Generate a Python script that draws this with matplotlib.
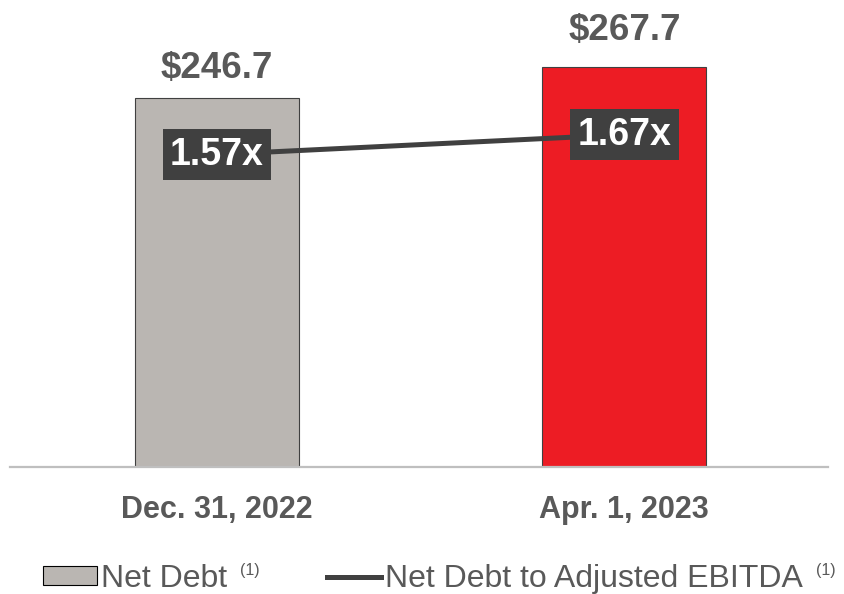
import matplotlib
matplotlib.use("Agg")
import matplotlib.pyplot as plt
from matplotlib.patches import Patch
from matplotlib.lines import Line2D

plt.rcParams['font.family'] = ['Liberation Sans', 'DejaVu Sans']

categories = ["Dec. 31, 2022", "Apr. 1, 2023"]
net_debt = [246.7, 267.7]
net_debt_labels = ["$246.7", "$267.7"]
leverage = [1.57, 1.67]
leverage_labels = ["1.57x", "1.67x"]
bar_colors = ["#BAB6B2", "#ED1C24"]
legend_labels = ["Net Debt", "Net Debt to Adjusted EBITDA"]
legend_note = "(1)"

TXT = "#595959"
DARK = "#404040"
W, H = 844, 594

fig = plt.figure(figsize=(W / 100, H / 100), dpi=100)
ax = fig.add_axes([10/W, 127/H, 818/W, 449/H])
x = list(range(len(categories)))
bars = ax.bar(x, net_debt, width=0.403, color=bar_colors, edgecolor=DARK, linewidth=0.8, zorder=2)
ax.set_xlim(-0.508, 1.5)
ax.set_ylim(0, 300.3)
for s in ["top", "right", "left"]:
    ax.spines[s].set_visible(False)
ax.spines["bottom"].set_color("#BFBFBF")
ax.spines["bottom"].set_linewidth(1.6)
ax.set_yticks([])
ax.set_xticks(x)
ax.set_xticklabels(categories, fontsize=22, fontweight="bold", color=TXT)
ax.tick_params(axis="x", length=0, pad=20)

label_offsets = [14.5, 19.5]
for xi, v, lab, off in zip(x, net_debt, net_debt_labels, label_offsets):
    ax.annotate(lab, (xi, v), xytext=(0, off), textcoords="offset points",
                ha="center", va="baseline", fontsize=26.5, fontweight="bold", color=TXT)

ax2 = ax.twinx()
ax2.set_ylim(0, 2.256)
ax2.axis("off")
ax2.plot(x, leverage, color=DARK, linewidth=3.6, zorder=3)
for xi, v, lab in zip(x, leverage, leverage_labels):
    ax2.text(xi, v, lab, ha="center", va="center", fontsize=27, fontweight="bold",
             color="white", zorder=4,
             bbox=dict(boxstyle="square,pad=0.2", facecolor=DARK, edgecolor="none"))

handles = [Patch(facecolor=bar_colors[0], edgecolor="#000000", linewidth=0.8),
           Line2D([0], [0], color=DARK, linewidth=3.6)]
anchors_x = [43, 327]
legs = []
for h, lab, ax_x in zip(handles, legend_labels, anchors_x):
    leg = fig.legend([h], [lab], loc="center left", bbox_to_anchor=(ax_x / W, 1 - 579 / H),
                     frameon=False, prop={"size": 23}, labelcolor=TXT,
                     handlelength=1.7, handleheight=0.53, handletextpad=0.12,
                     borderpad=0, borderaxespad=0)
    legs.append(leg)

fig.canvas.draw()
renderer = fig.canvas.get_renderer()
for leg in legs:
    bb = leg.get_texts()[0].get_window_extent(renderer)
    fig.text((bb.x1 + 13) / W, (bb.y1 + 1) / H, legend_note, ha="left", va="top",
             fontsize=11.5, color=TXT)

fig.savefig("out.png", dpi=100)
